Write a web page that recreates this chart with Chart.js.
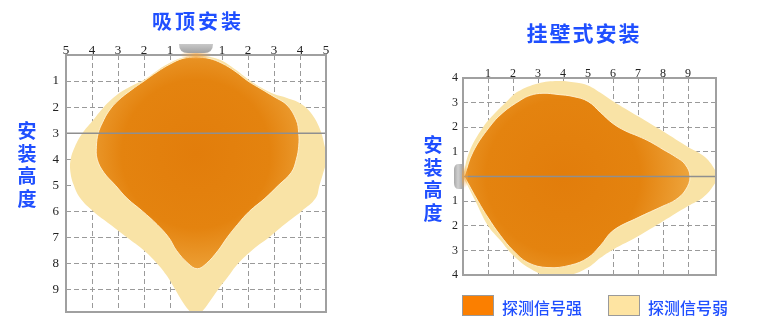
<!DOCTYPE html>
<html><head><meta charset="utf-8">
<script src="https://cdn.jsdelivr.net/npm/chart.js@4.4.1/dist/chart.umd.min.js"></script>
<style>
html,body{margin:0;padding:0;background:#fff;}
body{width:779px;height:328px;position:relative;overflow:hidden;font-family:"Noto Sans CJK SC",sans-serif;}
canvas{position:absolute;top:0;}
#c1{left:0;} #c2{left:400px;}
.t{position:absolute;color:#1f4fff;font-weight:700;white-space:nowrap;text-align:center;}
.lg{position:absolute;color:#1f4fff;font-size:16px;line-height:18px;font-weight:500;white-space:nowrap;}
.bx{position:absolute;box-sizing:border-box;width:32px;height:21px;border:1.5px solid #9a9a9a;}
</style></head>
<body>
<canvas id="c1" width="390" height="328"></canvas>
<canvas id="c2" width="379" height="328"></canvas>
<div class="t" style="left:95px;top:11px;width:200px;font-size:20px;line-height:20px;letter-spacing:3px;padding-left:3px;">吸顶安装</div>
<div class="t" style="left:482px;top:22px;width:200px;font-size:21px;line-height:21px;letter-spacing:2px;padding-left:2px;">挂壁式安装</div>
<div class="t" style="left:16px;top:119px;width:22px;font-size:19px;line-height:22.5px;">安<br>装<br>高<br>度</div>
<div class="t" style="left:422px;top:133px;width:22px;font-size:19px;line-height:22.7px;">安<br>装<br>高<br>度</div>
<div class="bx" style="left:462px;top:295px;background:#fb7f00;"></div>
<div class="lg" style="left:502px;top:298px;">探测信号强</div>
<div class="bx" style="left:608px;top:295px;background:#fee4a2;"></div>
<div class="lg" style="left:648px;top:298px;">探测信号弱</div>
<script>
// ---- tick values / labels ----
const ceilingTickValuesX = [-5,-4,-3,-2,-1,0,1,2,3,4,5];
const ceilingTickLabelsX = ['5','4','3','2','1','','1','2','3','4','5'];
const ceilingTickValuesY = [0,1,2,3,4,5,6,7,8,9];
const ceilingTickLabelsY = ['','1','2','3','4','5','6','7','8','9'];
const wallTickValuesX = [0,1,2,3,4,5,6,7,8,9];
const wallTickLabelsX = ['','1','2','3','4','5','6','7','8','9'];
const wallTickValuesY = [4,3,2,1,0,-1,-2,-3,-4];
const wallTickLabelsY = ['4','3','2','1','','1','2','3','4'];

// ---- ceiling mount (吸顶安装): x = horizontal distance, y = depth below sensor ----
const ceilingStrongX = [0,0.5,1,1.5,2,2.5,3,3.5,3.86,3.95,3.95,3.86,3.67,3.17,2.65,2.05,1.6,1.2,0.85,0.4,0.05,-0.3,-0.75,-1.05,-1.5,-2.05,-2.65,-3.1,-3.55,-3.8,-3.83,-3.76,-3.6,-3.35,-3.0,-2.5,-2,-1.5,-1,-0.5,0];
const ceilingStrongY = [0.08,0.13,0.32,0.62,1.0,1.3,1.6,1.92,2.5,3.0,3.5,4.0,4.5,5.0,5.5,6.0,6.5,7.0,7.5,8.0,8.2,8.0,7.5,7.0,6.5,6.0,5.5,5.0,4.5,4.0,3.5,3.0,2.6,2.15,1.75,1.35,1.0,0.65,0.35,0.13,0.08];
const ceilingWeakX = [0,0.5,1,1.5,2,2.5,3,3.5,4,4.4,4.75,4.95,5.02,4.9,4.75,4.6,4.05,3.4,2.8,2.2,1.62,1.2,0.85,0.5,0.2,0,-0.2,-0.5,-0.8,-1.1,-1.5,-2.0,-2.65,-3.3,-3.95,-4.45,-4.7,-4.83,-4.82,-4.65,-4.37,-4.0,-3.55,-3,-2.5,-2,-1.5,-1,-0.5,0];
const ceilingWeakY = [0.03,0.07,0.22,0.55,0.93,1.25,1.5,1.65,1.85,2.2,2.8,3.5,4.0,4.5,5.0,5.5,6.0,6.5,7.0,7.45,8.0,8.55,9.0,9.5,9.88,10.0,9.88,9.5,9.0,8.5,8.0,7.5,7.0,6.5,6.0,5.5,5.0,4.5,4.0,3.5,3.0,2.55,2.0,1.5,1.2,0.95,0.6,0.3,0.1,0.03];

// ---- wall mount (挂壁式安装): x = distance from wall, y = offset above/below sensor ----
const wallStrongX = [0.05,0.4,1.05,1.6,2.3,2.7,3.2,3.8,4.4,5.0,5.5,6.0,6.5,7.0,7.5,8.0,8.5,8.88,9.08,8.9,8.5,8.0,7.0,6.0,5.5,5.0,4.3,3.4,2.6,2.0,1.5,1.0,0.6,0.05];
const wallStrongY = [0,1.0,2.0,2.6,3.1,3.3,3.38,3.33,3.25,3.05,2.6,2.15,1.85,1.64,1.4,1.1,0.8,0.5,0,-0.55,-0.95,-1.2,-1.67,-2.2,-2.8,-3.3,-3.6,-3.7,-3.5,-3.0,-2.4,-1.67,-1.0,0];
const wallWeakX = [0,0.25,0.8,1.3,1.75,2.2,3.0,3.8,4.5,5.0,5.5,6.0,7.0,8.0,9.0,9.6,10.0,10.15,10.0,9.6,9.0,8.0,7.0,6.0,5.5,5.0,4.3,3.5,2.7,2.0,1.5,1.0,0.5,0];
const wallWeakY = [0,1.0,2.0,2.6,3.05,3.45,3.78,3.88,3.82,3.7,3.4,3.06,2.45,1.84,1.2,0.85,0.4,0,-0.4,-0.85,-1.2,-1.82,-2.43,-2.97,-3.3,-3.7,-4.0,-4.08,-3.75,-3.2,-2.6,-2.0,-1.0,0];

const seriesNames = ['探测信号强','探测信号弱'];

function zip(xs, ys){ return xs.map((x,i)=>({x:x, y:ys[i]})); }
function fixedTicks(values){ return function(scale){ scale.ticks = values.map(v=>({value:v})); }; }
function labelFrom(values, labels){ return function(v){ const i = values.indexOf(v); return i < 0 ? '' : labels[i]; }; }

function strongFill(cxVal, cyVal, radius){
  return function(c){
    const chart = c.chart;
    if (!chart.chartArea || !chart.scales.x) return '#e5861a';
    const cx = chart.scales.x.getPixelForValue(cxVal);
    const cy = chart.scales.y.getPixelForValue(cyVal);
    const g = chart.ctx.createRadialGradient(cx, cy, 0, cx, cy, radius);
    g.addColorStop(0, '#e27d0b');
    g.addColorStop(0.55, '#e4830f');
    g.addColorStop(1, '#f0ad48');
    return g;
  };
}

const framePlugin = {
  id: 'frame',
  afterDraw(chart, args, opts){
    const ctx = chart.ctx, a = chart.chartArea, xs = chart.scales.x, ys = chart.scales.y;
    ctx.save();
    const my = ys.getPixelForValue(opts.mid);
    ctx.strokeStyle = '#8f8f8f'; ctx.lineWidth = 1.5;
    ctx.beginPath(); ctx.moveTo(a.left, my); ctx.lineTo(a.right, my); ctx.stroke();
    ctx.strokeStyle = '#a0a0a0'; ctx.lineWidth = 2;
    ctx.strokeRect(a.left, a.top, a.right - a.left, a.bottom - a.top);
    if (opts.sensor === 'top') {
      const cx = xs.getPixelForValue(0);
      const glow = ctx.createRadialGradient(cx, a.top, 0, cx, a.top, 16);
      glow.addColorStop(0, 'rgba(240,160,60,0.7)'); glow.addColorStop(1, 'rgba(240,160,60,0)');
      ctx.fillStyle = glow; ctx.beginPath(); ctx.ellipse(cx, a.top, 16, 4, 0, 0, Math.PI*2); ctx.fill();
      const g = ctx.createLinearGradient(0, a.top - 12, 0, a.top - 2);
      g.addColorStop(0, '#cdcdcd'); g.addColorStop(1, '#a2a2a2');
      ctx.fillStyle = g;
      ctx.beginPath();
      ctx.moveTo(cx - 17, a.top - 11);
      ctx.lineTo(cx + 17, a.top - 11);
      ctx.quadraticCurveTo(cx + 17, a.top - 2, cx + 8, a.top - 2);
      ctx.lineTo(cx - 8, a.top - 2);
      ctx.quadraticCurveTo(cx - 17, a.top - 2, cx - 17, a.top - 11);
      ctx.fill();
    } else {
      const glow = ctx.createRadialGradient(a.left, my, 0, a.left, my, 12);
      glow.addColorStop(0, 'rgba(240,160,60,0.7)'); glow.addColorStop(1, 'rgba(240,160,60,0)');
      ctx.fillStyle = glow; ctx.beginPath(); ctx.ellipse(a.left + 1, my, 4, 12, 0, 0, Math.PI*2); ctx.fill();
      const g = ctx.createLinearGradient(a.left - 9, 0, a.left - 1, 0);
      g.addColorStop(0, '#a8a8a8'); g.addColorStop(0.5, '#cfcfcf'); g.addColorStop(1, '#b0b0b0');
      ctx.fillStyle = g;
      ctx.beginPath();
      ctx.moveTo(a.left - 1, my - 12.5);
      ctx.lineTo(a.left - 1, my + 12.5);
      ctx.lineTo(a.left - 5, my + 12.5);
      ctx.quadraticCurveTo(a.left - 9, my + 12.5, a.left - 9, my + 6);
      ctx.lineTo(a.left - 9, my - 6);
      ctx.quadraticCurveTo(a.left - 9, my - 12.5, a.left - 5, my - 12.5);
      ctx.fill();
    }
    ctx.restore();
  }
};

const tickFont = {family: '"Liberation Serif", "DejaVu Serif", serif', size: 13};

function axis(extra){
  return Object.assign({
    type: 'linear', z: 1,
    grid: {color: '#9a9a9a', lineWidth: 1, drawTicks: false},
    border: {display: false, dash: [5, 3]},
    ticks: {font: tickFont, color: '#222', autoSkip: false, maxRotation: 0}
  }, extra);
}

function makeChart(id, cfg){
  return new Chart(document.getElementById(id), {
    type: 'scatter',
    data: {datasets: [
      {label: seriesNames[0], data: cfg.strong, showLine: true, tension: 0.4, pointRadius: 0,
       fill: 'shape', backgroundColor: cfg.strongFill, borderColor: 'rgba(255,242,210,0.9)', borderWidth: 1},
      {label: seriesNames[1], data: cfg.weak, showLine: true, tension: 0.4, pointRadius: 0,
       fill: 'shape', backgroundColor: '#f9e3a6', borderColor: 'rgba(0,0,0,0)', borderWidth: 0}
    ]},
    options: {
      responsive: false, animation: false, devicePixelRatio: 1,
      layout: {padding: cfg.padding},
      plugins: {legend: {display: false}, tooltip: {enabled: false}, frame: cfg.frame},
      scales: {x: cfg.x, y: cfg.y}
    },
    plugins: [framePlugin]
  });
}

makeChart('c1', {
  strong: zip(ceilingStrongX, ceilingStrongY),
  weak: zip(ceilingWeakX, ceilingWeakY),
  strongFill: strongFill(0, 3.8, 135),
  padding: {left: 46, top: 39, right: 64, bottom: 16},
  frame: {mid: 3, sensor: 'top'},
  x: axis({position: 'top', min: -5, max: 5,
    afterBuildTicks: fixedTicks(ceilingTickValuesX),
    afterFit: s => { s.height = 16; },
    ticks: {font: tickFont, color: '#222', autoSkip: false, maxRotation: 0, padding: -3,
            callback: labelFrom(ceilingTickValuesX, ceilingTickLabelsX)}}),
  y: axis({position: 'left', reverse: true, min: 0, max: 9.86,
    afterBuildTicks: fixedTicks(ceilingTickValuesY),
    afterFit: s => { s.width = 20; },
    ticks: {font: tickFont, color: '#222', autoSkip: false, padding: 7,
            callback: labelFrom(ceilingTickValuesY, ceilingTickLabelsY)}})
});

makeChart('c2', {
  strong: zip(wallStrongX, wallStrongY),
  weak: zip(wallWeakX, wallWeakY),
  strongFill: strongFill(4, 0, 140),
  padding: {left: 43, top: 62, right: 63, bottom: 53},
  frame: {mid: 0, sensor: 'left'},
  x: axis({position: 'top', min: 0, max: 10.12,
    afterBuildTicks: fixedTicks(wallTickValuesX),
    afterFit: s => { s.height = 16; },
    ticks: {font: {family: tickFont.family, size: 12}, color: '#222', autoSkip: false, maxRotation: 0, padding: -3,
            callback: labelFrom(wallTickValuesX, wallTickLabelsX)}}),
  y: axis({position: 'left', min: -4, max: 4,
    afterBuildTicks: fixedTicks(wallTickValuesY),
    afterFit: s => { s.width = 20; },
    ticks: {font: {family: tickFont.family, size: 12}, color: '#222', autoSkip: false, padding: 5,
            callback: labelFrom(wallTickValuesY, wallTickLabelsY)}})
});
</script>
</body></html>
